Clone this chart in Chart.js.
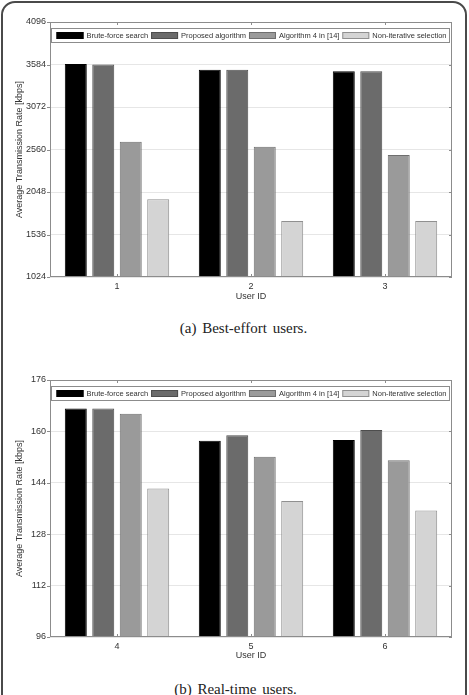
<!DOCTYPE html>
<html>
<head>
<meta charset="utf-8">
<script src="https://cdn.jsdelivr.net/npm/chart.js@4.4.1/dist/chart.umd.min.js"></script>
<style>
body { margin:0; background:#fff; width:469px; height:695px; overflow:hidden; position:relative; }
#frame { position:absolute; left:1px; top:1px; width:462px; height:730px; border:2px solid #4a4a4a; border-radius:14px; }
canvas { position:absolute; left:0; }
#c1 { top:0; }
#c2 { top:358px; }
.cap { position:absolute; left:0; width:469px; text-align:center; font-family:"Liberation Serif","Times New Roman",serif; font-size:15px; color:#222; word-spacing:2px; }
</style>
</head>
<body>
<div id="frame"></div>
<canvas id="c1" width="469" height="305"></canvas>
<div class="cap" style="top:320px; left:9px">(a) Best-effort users.</div>
<canvas id="c2" width="469" height="306"></canvas>
<div class="cap" style="top:681px; left:1px">(b) Real-time users.</div>
<script>
// values
var seriesLabels = ['Brute-force search', 'Proposed algorithm', 'Algorithm 4 in [14]', 'Non-iterative selection'];
var seriesColors = ['#000000', '#6b6b6b', '#9a9a9a', '#d4d4d4'];
var seriesBorders = ['#000000', '#4d4d4d', '#6e6e6e', '#909090'];

var usersBE = ['1', '2', '3'];
var bruteBE = [3590, 3521, 3502];
var proposedBE = [3584, 3521, 3502];
var alg4BE = [2654, 2594, 2494];
var nonIterBE = [1960, 1699, 1699];

var usersRT = ['4', '5', '6'];
var bruteRT = [167.1, 157.1, 157.3];
var proposedRT = [167.1, 158.8, 160.4];
var alg4RT = [165.5, 152.1, 151.0];
var nonIterRT = [142.2, 138.3, 135.4];

Chart.defaults.font.family = '"Liberation Sans", Arial, sans-serif';
Chart.defaults.color = '#333';

// box round the plot, little tick marks and the boxed legend
var framePlugin = {
    id: 'frame',
    afterDatasetsDraw: function(chart) {
        var a = chart.chartArea, ctx = chart.ctx;
        var xs = chart.scales.x, ys = chart.scales.y;
        ctx.save();
        ctx.strokeStyle = '#8c8c8c';
        ctx.lineWidth = 1;
        ctx.strokeRect(a.left + 0.5, a.top + 0.5, a.right - a.left - 1, a.bottom - a.top - 1);
        ctx.beginPath();
        xs.ticks.forEach(function(t, i) {
            var px = Math.round(xs.getPixelForTick(i)) + 0.5;
            ctx.moveTo(px, a.top); ctx.lineTo(px, a.top + 3);
            ctx.moveTo(px, a.bottom); ctx.lineTo(px, a.bottom - 3);
        });
        ys.ticks.forEach(function(t, i) {
            var py = Math.round(ys.getPixelForTick(i)) + 0.5;
            ctx.moveTo(a.right, py); ctx.lineTo(a.right - 3, py);
            ctx.moveTo(a.left, py); ctx.lineTo(a.left - 3, py);
        });
        ctx.stroke();

        // legend
        var bx = a.left + 1.5, by = a.top + 6.5, bw = a.right - a.left - 4, bh = 14;
        ctx.fillStyle = '#fff';
        ctx.fillRect(bx, by, bw, bh);
        ctx.strokeStyle = '#8c8c8c';
        ctx.strokeRect(bx, by, bw, bh);
        ctx.font = '7.5px "Liberation Sans", Arial, sans-serif';
        var sw = 27, sh = 7, tg = 3;
        var widths = chart.data.datasets.map(function(d) { return ctx.measureText(d.label).width; });
        var total = widths.reduce(function(s, w) { return s + w + sw + tg; }, 0);
        var gap = (bw - 8 - total) / (widths.length - 1);
        var x = bx + 5;
        ctx.textBaseline = 'middle';
        chart.data.datasets.forEach(function(d, i) {
            ctx.fillStyle = d.backgroundColor;
            ctx.fillRect(x, by + bh / 2 - sh / 2, sw, sh);
            ctx.strokeStyle = d.borderColor;
            ctx.strokeRect(x + 0.5, by + bh / 2 - sh / 2 + 0.5, sw - 1, sh - 1);
            ctx.fillStyle = '#333';
            ctx.fillText(d.label, x + sw + tg, by + bh / 2 + 0.5);
            x += sw + tg + widths[i] + gap;
        });
        ctx.restore();
    }
};

var newChart = function(id, labels, values, yMin, yMax, yStep, xHeight) {
    var datasets = values.map(function(v, i) {
        return {
            label: seriesLabels[i],
            data: v,
            backgroundColor: seriesColors[i],
            borderColor: seriesBorders[i],
            borderWidth: 1,
            barPercentage: 0.8,
            categoryPercentage: 0.82
        };
    });
    var ctx = document.getElementById(id).getContext('2d');
    return new Chart(ctx, {
        type: 'bar',
        data: { labels: labels, datasets: datasets },
        options: {
            responsive: false,
            animation: false,
            layout: { padding: { top: 22, right: 17, left: 0, bottom: 0 } },
            plugins: { legend: { display: false }, tooltip: { enabled: false } },
            scales: {
                x: {
                    grid: { display: false, drawTicks: false },
                    border: { display: false },
                    ticks: { font: { size: 9 }, padding: 4 },
                    title: { display: true, text: 'User ID', font: { size: 9 }, padding: { top: 0, bottom: 3 } },
                    afterFit: function(s) { s.height = xHeight; }
                },
                y: {
                    min: yMin,
                    max: yMax,
                    grid: { color: '#e6e6e6', drawTicks: false },
                    border: { display: false },
                    ticks: {
                        stepSize: yStep,
                        font: { size: 9 },
                        padding: 4,
                        callback: function(v) { return String(v); }
                    },
                    title: { display: true, text: 'Average Transmission Rate [kbps]', font: { size: 9 }, padding: { top: 14, bottom: 0 } },
                    afterFit: function(s) { s.width = 50; }
                }
            }
        },
        plugins: [framePlugin]
    });
};

newChart('c1', usersBE, [bruteBE, proposedBE, alg4BE, nonIterBE], 1024, 4096, 512, 28);
newChart('c2', usersRT, [bruteRT, proposedRT, alg4RT, nonIterRT], 96, 176, 16, 27);
</script>
</body>
</html>
